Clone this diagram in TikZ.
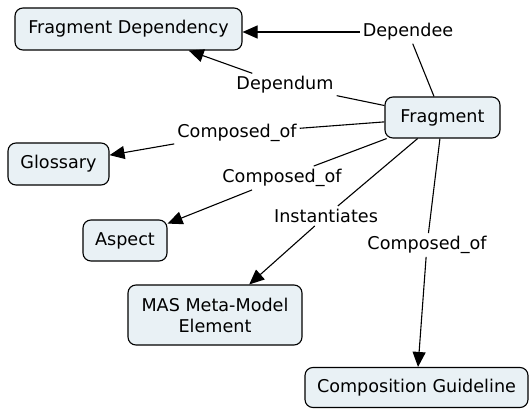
\documentclass[tikz,border=0pt]{standalone}
\usepackage{fontspec}
\setmainfont{DejaVu Sans}
\usetikzlibrary{arrows.meta}
\begin{document}
\begin{tikzpicture}[x=1pt,y=-1pt,
  concept/.style={draw=black, line width=1.1pt, fill=boxfill, rounded corners=8pt, inner sep=0pt, align=center, font=\fontsize{17.6}{21}\selectfont},
  lbl/.style={inner sep=3pt, font=\fontsize{17.6}{21}\selectfont},
  link/.style={line width=1.1pt, draw=black},
  arr/.style={link, -{Triangle[length=15pt,width=13pt]}}
]
\definecolor{boxfill}{HTML}{E9F1F5}
\useasboundingbox (0,0) rectangle (530,409);
% concepts
\node[concept, minimum width=227, minimum height=42] (fd) at (128.5,29) {Fragment Dependency};
\node[concept, minimum width=115, minimum height=41] (fr) at (442.5,117.5) {Fragment};
\node[concept, minimum width=101, minimum height=42] (gl) at (58.5,164) {Glossary};
\node[concept, minimum width=84, minimum height=41] (as) at (125,240.5) {Aspect};
\node[concept, minimum width=174, minimum height=60] (mas) at (215,315) {MAS Meta-Model\\Element};
\node[concept, minimum width=223, minimum height=40] (cg) at (416.5,387.5) {Composition Guideline};
% labels
\node[lbl] (l1) at (408,32) {Dependee};
\node[lbl] (l2) at (285,85) {Dependum};
\node[lbl] (l3) at (237,133) {Composed\_of};
\node[lbl] (l4) at (282,178) {Composed\_of};
\node[lbl] (l5) at (326,216) {Instantiates};
\node[lbl] (l6) at (427,245) {Composed\_of};
% connectors
\draw[link] (fr) -- (l1);
\draw[arr] (l1) -- (fd.east |- l1);
\draw[link] (fr) -- (l2);
\draw[arr] (l2) -- (fd);
\draw[link] (fr) -- (l3);
\draw[arr] (l3) -- (gl);
\draw[link] (fr) -- (l4);
\draw[arr] (l4) -- (as);
\draw[link] (fr) -- (l5);
\draw[arr] (l5) -- (mas);
\draw[link] (fr) -- (l6);
\draw[arr] (l6) -- (cg);
\end{tikzpicture}
\end{document}
